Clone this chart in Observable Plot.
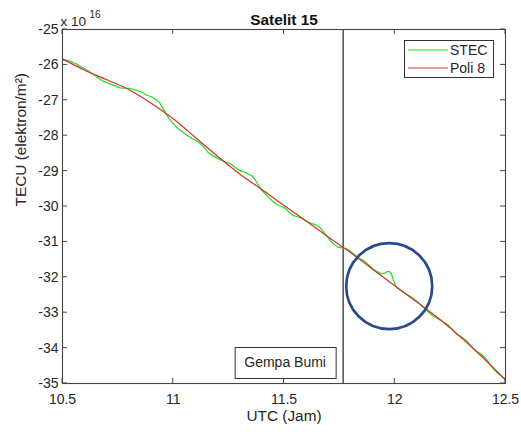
<!DOCTYPE html>
<html>
<head>
<meta charset="utf-8">
<script src="https://cdn.jsdelivr.net/npm/d3@7"></script>
<script src="https://cdn.jsdelivr.net/npm/@observablehq/plot@0.6"></script>
<style>
  body { margin: 0; background: #fff; }
  #chart { width: 521px; height: 432px; }
</style>
</head>
<body>
<div id="chart"></div>
<script>
// ---- Data (TECU in units of 1e16 electrons/m^2, time in UTC hours) ----
const stecX = [10.50,10.52,10.54,10.56,10.58,10.60,10.62,10.64,10.66,10.68,10.70,10.72,10.74,10.76,10.78,10.80,10.82,10.84,10.86,10.88,10.90,10.92,10.94,10.96,10.98,11.00,11.02,11.04,11.06,11.08,11.10,11.12,11.14,11.16,11.18,11.20,11.22,11.24,11.26,11.28,11.30,11.32,11.34,11.36,11.38,11.40,11.42,11.44,11.46,11.48,11.50,11.52,11.54,11.56,11.58,11.60,11.62,11.64,11.66,11.68,11.70,11.72,11.74,11.76,11.78,11.80,11.82,11.84,11.86,11.88,11.90,11.92,11.94,11.955,11.965,11.975,11.985,11.995,12.005,12.02,12.04,12.06,12.08,12.10,12.12,12.14,12.16,12.18,12.20,12.22,12.24,12.26,12.28,12.30,12.32,12.34,12.36,12.38,12.40,12.42,12.44,12.46,12.48,12.50];
const stecY = [-25.86,-25.87,-25.91,-25.96,-26.04,-26.11,-26.18,-26.27,-26.36,-26.45,-26.50,-26.55,-26.60,-26.65,-26.66,-26.66,-26.69,-26.73,-26.78,-26.85,-26.90,-26.97,-27.08,-27.30,-27.51,-27.66,-27.79,-27.88,-27.98,-28.06,-28.13,-28.21,-28.34,-28.49,-28.57,-28.64,-28.70,-28.75,-28.80,-28.90,-28.98,-29.02,-29.09,-29.15,-29.35,-29.54,-29.67,-29.80,-29.91,-29.98,-30.03,-30.14,-30.25,-30.29,-30.34,-30.41,-30.47,-30.51,-30.58,-30.72,-30.89,-31.04,-31.14,-31.17,-31.19,-31.26,-31.37,-31.46,-31.53,-31.64,-31.75,-31.84,-31.90,-31.88,-31.84,-31.83,-31.90,-32.10,-32.26,-32.34,-32.42,-32.50,-32.58,-32.68,-32.79,-32.91,-33.03,-33.12,-33.19,-33.26,-33.34,-33.47,-33.61,-33.68,-33.77,-33.90,-34.05,-34.13,-34.22,-34.36,-34.55,-34.68,-34.78,-34.88];

const poliX = [10.5,10.6,10.7,10.8,10.9,11.0,11.1,11.2,11.3,11.4,11.5,11.6,11.7,11.8,11.9,12.0,12.1,12.2,12.3,12.4,12.5];
const poliY = [-25.83,-26.15,-26.42,-26.70,-27.08,-27.52,-28.05,-28.58,-29.08,-29.52,-29.97,-30.41,-30.86,-31.30,-31.77,-32.24,-32.70,-33.17,-33.70,-34.28,-34.90];

const eventTime = 11.767;          // earthquake time (UTC hours)
const circleX = [11.975];          // highlighted anomaly
const circleY = [-32.25];

const xTicks = [10.5, 11, 11.5, 12, 12.5];
const yTicks = [-25, -26, -27, -28, -29, -30, -31, -32, -33, -34, -35];

const seriesNames = ["STEC", "Poli 8"];
const seriesColors = ["#22dd22", "#d0302a"];
const titleText = "Satelit 15";
const xLabel = "UTC (Jam)";
const yLabel = "TECU (elektron/m\u00B2)";
const exponentBase = "x 10";
const exponentPower = "16";
const eventLabel = "Gempa Bumi";

// ---- Build tables ----
const stec = stecX.map((x, i) => ({x, y: stecY[i]}));
const poli = poliX.map((x, i) => ({x, y: poliY[i]}));
const circle = circleX.map((x, i) => ({x, y: circleY[i]}));

const font = "'Liberation Sans', Arial, Helvetica, sans-serif";
const fmt = d => String(d);

const chart = Plot.plot({
  width: 521,
  height: 432,
  marginLeft: 62,
  marginRight: 16,
  marginTop: 29,
  marginBottom: 49,
  style: {fontFamily: font, fontSize: "14px", color: "#262626", background: "#fff", overflow: "visible"},
  x: {domain: [10.5, 12.5], label: null},
  y: {domain: [-35, -25], label: null},
  marks: [
    Plot.ruleX([eventTime], {stroke: "#333", strokeWidth: 1.3}),
    Plot.line(stec, {x: "x", y: "y", stroke: seriesColors[0], strokeWidth: 1.2}),
    Plot.line(poli, {x: "x", y: "y", stroke: seriesColors[1], strokeWidth: 1.2, curve: "monotone-x"}),
    Plot.dot(circle, {x: "x", y: "y", r: 43, stroke: "#2b4a8b", strokeWidth: 2.7, fill: "none"}),
    Plot.frame({stroke: "#444", strokeWidth: 1.1}),
    Plot.axisX({ticks: xTicks, tickSize: 0, tickPadding: 11, tickFormat: fmt, label: null, fontSize: 14}),
    Plot.axisY({ticks: yTicks, tickSize: 0, tickPadding: 4, tickFormat: fmt, label: null, fontSize: 14}),
    Plot.text([titleText], {text: d => d, frameAnchor: "top", dy: -15, fontWeight: "bold", fontSize: 15.4, fill: "#111"}),
    Plot.text([exponentBase], {text: d => d, frameAnchor: "top-left", dx: -2, dy: -13, textAnchor: "start", fontSize: 13.5}),
    Plot.text([exponentPower], {text: d => d, frameAnchor: "top-left", dx: 27, dy: -19, textAnchor: "start", fontSize: 10}),
    Plot.text([xLabel], {text: d => d, frameAnchor: "bottom", dy: 37, fontSize: 15.4}),
    Plot.text([yLabel], {text: d => d, frameAnchor: "left", dx: -41, rotate: -90, fontSize: 15.4})
  ]
});

document.getElementById("chart").appendChild(chart);

const svg = d3.select(chart);
const xs = chart.scale("x"), ys = chart.scale("y");
const fL = xs.apply(10.5), fR = xs.apply(12.5), fT = ys.apply(-25), fB = ys.apply(-35);

// ---- Inward ticks on all four sides (MATLAB box style) ----
const tk = svg.append("g").attr("stroke", "#444").attr("stroke-width", 1);
xTicks.forEach(v => {
  const px = xs.apply(v);
  tk.append("line").attr("x1", px).attr("x2", px).attr("y1", fB).attr("y2", fB - 5);
  tk.append("line").attr("x1", px).attr("x2", px).attr("y1", fT).attr("y2", fT + 5);
});
yTicks.forEach(v => {
  const py = ys.apply(v);
  tk.append("line").attr("x1", fL).attr("x2", fL + 5).attr("y1", py).attr("y2", py);
  tk.append("line").attr("x1", fR).attr("x2", fR - 5).attr("y1", py).attr("y2", py);
});

// ---- Legend (top-right inside the axes) ----
const lg = svg.append("g").attr("font-family", font).attr("font-size", 14).attr("fill", "#262626");
const lgW = 89, lgH = 37;
const lgX = fR - 12 - lgW, lgY = fT + 11;
lg.append("rect").attr("x", lgX + 0.5).attr("y", lgY + 0.5).attr("width", lgW).attr("height", lgH)
  .attr("fill", "#fff").attr("stroke", "#333").attr("stroke-width", 1);
seriesNames.forEach((name, i) => {
  const cy = lgY + 10 + i * 18;
  lg.append("line").attr("x1", lgX + 4).attr("x2", lgX + 44).attr("y1", cy).attr("y2", cy)
    .attr("stroke", seriesColors[i]).attr("stroke-width", 1.2);
  lg.append("text").attr("x", lgX + 46).attr("y", cy).attr("dy", "0.35em")
    .attr("text-anchor", "start").text(name);
});

// ---- Event annotation box ----
const evX = xs.apply(eventTime);
const bW = 101, bH = 31;
const bx = evX - 7 - bW, by = fB - 5 - bH;
const ev = svg.append("g").attr("font-family", font).attr("font-size", 14).attr("fill", "#262626");
ev.append("rect").attr("x", bx + 0.5).attr("y", by + 0.5).attr("width", bW).attr("height", bH)
  .attr("fill", "#fff").attr("stroke", "#333").attr("stroke-width", 1);
ev.append("text").attr("x", bx + bW / 2).attr("y", by + bH / 2).attr("dy", "0.35em")
  .attr("text-anchor", "middle").text(eventLabel);
</script>
</body>
</html>
